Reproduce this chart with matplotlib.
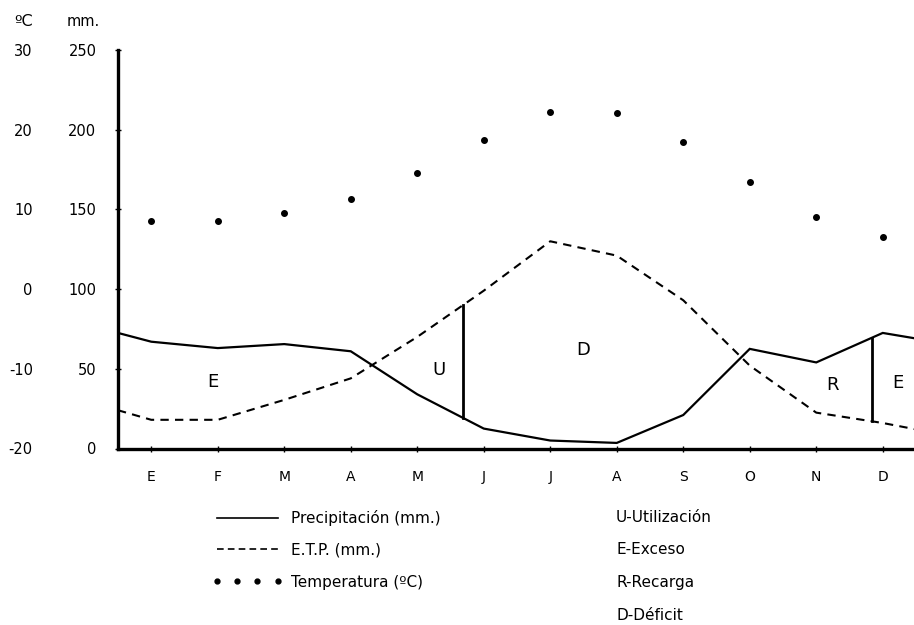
import matplotlib
matplotlib.use('Agg')
import matplotlib.pyplot as plt
from matplotlib.lines import Line2D
import numpy as np
from matplotlib import rcParams

rcParams['font.family'] = 'sans-serif'
rcParams['font.sans-serif'] = ['DejaVu Sans']

# Data (monthly values, E..D)
months = ['E', 'F', 'M', 'A', 'M', 'J', 'J', 'A', 'S', 'O', 'N', 'D']
precip = [67, 63, 65.5, 61, 34, 12.5, 5, 3.5, 21, 62.5, 54, 72.5]
etp = [18, 18, 30.5, 44, 70, 99, 130, 121, 93, 52, 22.5, 16]
temp = [8.5, 8.5, 9.5, 11.25, 14.6, 18.75, 22.25, 22.1, 18.5, 13.5, 9.1, 6.5]
# values where the curves meet the plot edges
precip_edges = [72.5, 69]
etp_edges = [24, 12]
mm_ticks = [0, 50, 100, 150, 200, 250]
temp_ticks = [-20, -10, 0, 10, 20, 30]

# zone boundaries (month index) and zone labels
splits = [4.69, 10.84]
zones = [('E', 0.93, 42), ('U', 4.32, 49), ('D', 6.5, 62), ('R', 10.24, 40), ('E', 11.22, 41)]
key_text = ['U-Utilización', 'E-Exceso', 'R-Recarga', 'D-Déficit']

x = np.arange(len(months))
x_full = np.concatenate([[-0.5], x, [11.5]])
p_full = np.concatenate([[precip_edges[0]], precip, [precip_edges[1]]])
e_full = np.concatenate([[etp_edges[0]], etp, [etp_edges[1]]])

fig = plt.figure(figsize=(9.14, 6.25), dpi=100)
ax = fig.add_axes([118 / 914, 1 - 448.5 / 625, 796 / 914, 398.5 / 625])

ax.plot(x_full, p_full, '-', color='black', lw=1.6, solid_joinstyle='miter')
ax.plot(x_full, e_full, color='black', lw=1.5, dashes=(4, 3))

# vertical lines separating the zones
for s in splits:
    ax.plot([s, s], [np.interp(s, x_full, p_full), np.interp(s, x_full, e_full)],
            color='black', lw=2)

for lab, zx, zy in zones:
    ax.text(zx, zy, lab, fontsize=13, ha='center', va='center')

ax.set_xlim(-0.5, 11.47)
ax.set_ylim(0, 250)
ax.set_xticks(x)
ax.set_xticklabels(months, fontsize=10)
ax.set_yticks(mm_ticks)
ax.set_yticklabels([str(v) for v in mm_ticks], fontsize=10.5)
ax.tick_params(axis='x', direction='inout', length=5, width=1, pad=13)
ax.tick_params(axis='y', direction='inout', length=5, width=1, pad=13)
for side in ['top', 'right']:
    ax.spines[side].set_visible(False)
ax.spines['left'].set_linewidth(2.4)
ax.spines['bottom'].set_linewidth(2.4)

# temperature on its own scale
ax2 = ax.twinx()
ax2.set_ylim(-20, 30)
ax2.plot(x, temp, 'o', color='black', ms=4)
ax2.yaxis.set_ticks_position('left')
ax2.yaxis.set_label_position('left')
ax2.spines['left'].set_position(('axes', -0.107))
for side in ['top', 'right', 'left', 'bottom']:
    ax2.spines[side].set_visible(False)
ax2.set_yticks(temp_ticks)
ax2.set_yticklabels([str(v) for v in temp_ticks], fontsize=10.5)
ax2.tick_params(axis='y', length=0, pad=0)

fig.text(33 / 914, 1 - 21 / 625, 'ºC', fontsize=11.5, ha='right', va='center')
fig.text(67 / 914, 1 - 22 / 625, 'mm.', fontsize=10.5, ha='left', va='center')

# legend
handles = [
    Line2D([], [], color='black', lw=1.2),
    Line2D([], [], color='black', lw=1.2, dashes=(4, 2.5)),
    Line2D([], [], color='black', ls='none', marker='o', ms=3.5),
]
fig.legend(handles, ['Precipitación (mm.)', 'E.T.P. (mm.)', 'Temperatura (ºC)'],
           loc='upper left', bbox_to_anchor=(212 / 914, 1 - 510 / 625),
           frameon=False, fontsize=11, handlelength=4.6, handletextpad=0.6,
           labelspacing=1.1, numpoints=4, borderaxespad=0, borderpad=0)

for i, t in enumerate(key_text):
    fig.text(616 / 914, 1 - (517 + 33 * i) / 625, t, fontsize=11, ha='left', va='center')

plt.savefig('out.png', dpi=100)
plt.close()
